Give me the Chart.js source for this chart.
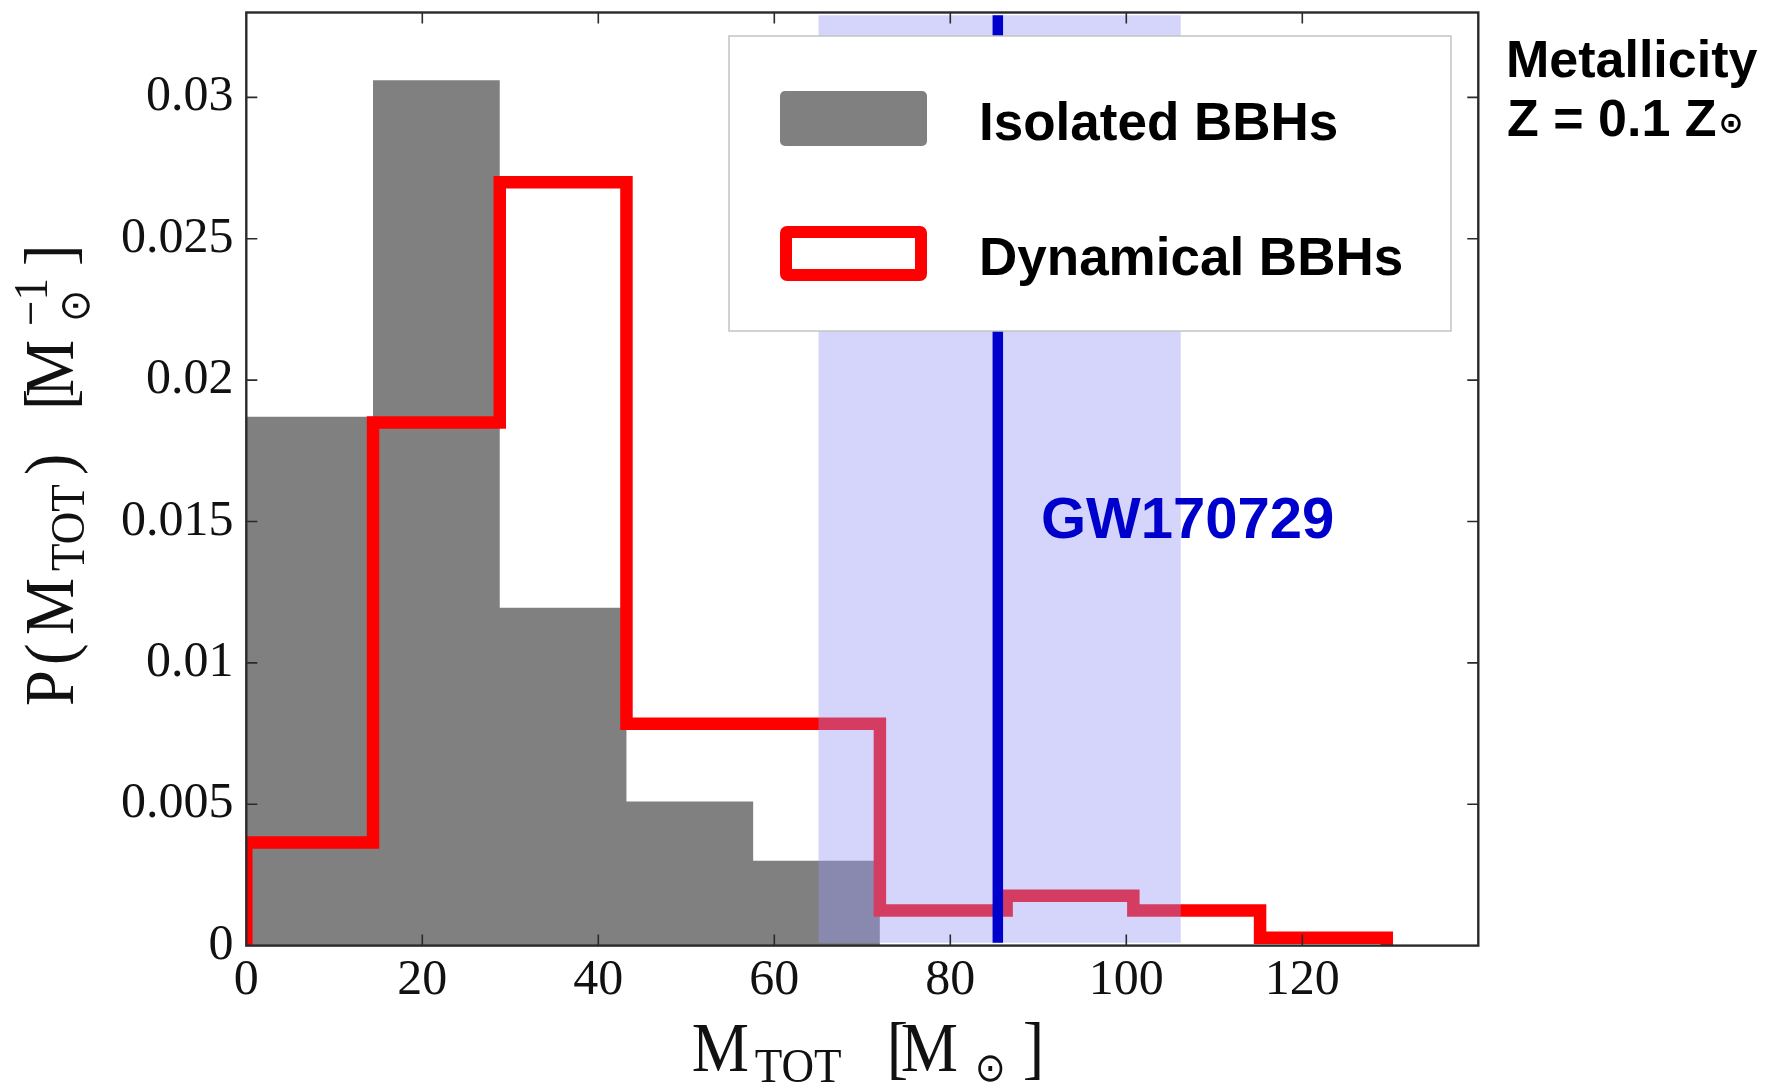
<!DOCTYPE html>
<html>
<head>
<meta charset="utf-8">
<title>P(M_TOT) of isolated and dynamical BBHs</title>
<script src="https://cdn.jsdelivr.net/npm/chart.js@4.4.1/dist/chart.umd.min.js"></script>
<style>
  html, body { margin: 0; padding: 0; background: #fff; }
  #wrap { width: 1780px; height: 1088px; }
</style>
</head>
<body>
<div id="wrap"><canvas id="mtot" width="1780" height="1088"></canvas></div>
<script>
/* ===== values ===== */
const binEdges = [0, 14.4, 28.8, 43.2, 57.6, 72, 86.4, 100.8, 115.2, 129.6];
const isolatedDensity = [0.0187, 0.0306, 0.01195, 0.0051, 0.0030];
const dynamicalDensity = [0.00365, 0.0185, 0.0270, 0.00785, 0.00785, 0.00124, 0.00176, 0.00124, 0.00028];
const gwMass = [85.4];            // GW170729 total mass
const gwRange = [65.0, 106.2];    // shaded interval
const gwSpan = [0.0001, 0.0329];  // vertical extent of line / band
const xTicks = [0, 20, 40, 60, 80, 100, 120];
const yTicks = [0, 0.005, 0.01, 0.015, 0.02, 0.025, 0.03];
const seriesNames = ["Isolated BBHs", "Dynamical BBHs"];
const gwName = "GW170729";
const gwLabelAt = [90.3, 0.0144];

const GRAY = "#808080";
const RED = "#ff0000";
const BLUE = "#0000cc";
const BAND = "rgba(150,150,245,0.4)";
const SERIF = "'Liberation Serif', 'Times New Roman', serif";
const SANS = "'Liberation Sans', Arial, sans-serif";
const SYM = "'DejaVu Sans', sans-serif";
const TICK = 11;

/* histogram -> step polyline (value of point i holds until point i+1) */
function stepPoints(edges, dens, closeLeft, closeRight) {
  const pts = [];
  if (closeLeft) pts.push({ x: edges[0], y: 0 });
  dens.forEach((d, i) => pts.push({ x: edges[i], y: d }));
  pts.push({ x: edges[dens.length], y: dens[dens.length - 1] });
  if (closeRight) pts.push({ x: edges[dens.length], y: 0 });
  return pts;
}

function fmtTick(v) {
  return String(parseFloat(Number(v).toFixed(4)));
}

/* ===== frame + inward ticks on all four sides ===== */
const frameTicks = {
  id: "frameTicks",
  afterDatasetsDraw(chart) {
    const { ctx, chartArea: a, scales: { x, y } } = chart;
    ctx.save();
    ctx.strokeStyle = "#2a2a2a";
    ctx.lineWidth = 1.6;
    ctx.beginPath();
    x.ticks.forEach(t => {
      const px = x.getPixelForValue(t.value);
      if (px <= a.left + 1 || px >= a.right - 1) return;
      ctx.moveTo(px, a.bottom); ctx.lineTo(px, a.bottom - TICK);
      ctx.moveTo(px, a.top); ctx.lineTo(px, a.top + TICK);
    });
    y.ticks.forEach(t => {
      const py = y.getPixelForValue(t.value);
      if (py >= a.bottom - 1 || py <= a.top + 1) return;
      ctx.moveTo(a.left, py); ctx.lineTo(a.left + TICK, py);
      ctx.moveTo(a.right, py); ctx.lineTo(a.right - TICK, py);
    });
    ctx.stroke();
    ctx.lineWidth = 2.4;
    ctx.strokeRect(a.left, a.top, a.width, a.height);
    ctx.restore();
  },
};

/* draw a run of text pieces along a baseline (optionally rotated) */
function drawRuns(ctx, ox, oy, rot, runs) {
  ctx.save();
  ctx.translate(ox, oy);
  ctx.rotate(rot);
  ctx.fillStyle = "#111";
  runs.forEach(r => {
    ctx.save();
    ctx.font = `${r.size}px ${r.family || SERIF}`;
    ctx.textBaseline = r.base || "alphabetic";
    ctx.translate(r.off, r.dy || 0);
    ctx.scale(0.92, 1);
    ctx.fillText(r.t, 0, 0);
    ctx.restore();
  });
  ctx.restore();
}

/* ===== legend, annotations, axis titles ===== */
const overlays = {
  id: "overlays",
  afterDraw(chart) {
    const { ctx, scales: { x, y } } = chart;
    const ds = chart.data.datasets;
    ctx.save();

    // GW label
    ctx.fillStyle = BLUE;
    ctx.font = `bold 58px ${SANS}`;
    ctx.textBaseline = "alphabetic";
    ctx.fillText(gwName, x.getPixelForValue(gwLabelAt[0]), y.getPixelForValue(gwLabelAt[1]));

    // legend box
    ctx.fillStyle = "#fff";
    ctx.fillRect(729, 36, 722, 295);
    ctx.strokeStyle = "#c4c4c4";
    ctx.lineWidth = 1.5;
    ctx.strokeRect(729, 36, 722, 295);

    const iso = ds.find(d => d.label === seriesNames[0]);
    const dyn = ds.find(d => d.label === seriesNames[1]);
    ctx.fillStyle = iso.backgroundColor;
    ctx.beginPath();
    ctx.roundRect(780, 91, 147, 55, 5);
    ctx.fill();

    ctx.strokeStyle = dyn.borderColor;
    ctx.lineWidth = 12;
    ctx.lineJoin = "round";
    ctx.beginPath();
    ctx.roundRect(786, 232, 135, 43, 1);
    ctx.stroke();

    ctx.fillStyle = "#000";
    ctx.font = `bold 53px ${SANS}`;
    ctx.fillText(seriesNames[0], 979, 140);
    ctx.fillText(seriesNames[1], 979, 275);

    // metallicity note
    ctx.font = `bold 52px ${SANS}`;
    ctx.fillText("Metallicity", 1506, 77);
    ctx.fillText("Z = 0.1 Z", 1507, 136);
    const zw = ctx.measureText("Z = 0.1 Z").width;
    ctx.font = `bold 30px ${SYM}`;
    ctx.textBaseline = "middle";
    ctx.fillText("\u2299", 1507 + zw + 2, 125);
    ctx.restore();

    // x axis title: M_TOT [M_sun]
    drawRuns(ctx, 691.7, 1070.7, 0, [
      { t: "M", size: 70, off: 0 },
      { t: "TOT", size: 49, off: 63, dy: 11 },
      { t: "[", size: 70, off: 195 },
      { t: "M", size: 70, off: 209 },
      { t: "\u2299", size: 40, off: 283, base: "middle", family: SYM },
      { t: "]", size: 70, off: 331 },
    ]);

    // y axis title: P(M_TOT) [M_sun^-1]
    drawRuns(ctx, 72.5, 706, -Math.PI / 2, [
      { t: "P", size: 70, off: 0 },
      { t: "(", size: 70, off: 41 },
      { t: "M", size: 70, off: 71 },
      { t: "TOT", size: 49, off: 135, dy: 11 },
      { t: ")", size: 70, off: 231 },
      { t: "[", size: 70, off: 296 },
      { t: "M", size: 70, off: 309 },
      { t: "\u22121", size: 49, off: 380, dy: -26 },
      { t: "\u2299", size: 42, off: 384, dy: 6, base: "middle", family: SYM },
      { t: "]", size: 70, off: 440 },
    ]);
  },
};

const ctx = document.getElementById("mtot").getContext("2d");
new Chart(ctx, {
  type: "line",
  data: {
    datasets: [
      {
        label: gwName,
        data: [{ x: gwMass[0], y: gwSpan[0] }, { x: gwMass[0], y: gwSpan[1] }],
        borderColor: BLUE,
        borderWidth: 10.5,
        borderCapStyle: "butt",
        fill: false,
        order: 0,
      },
      {
        label: "band",
        data: [{ x: gwRange[0], y: gwSpan[1] }, { x: gwRange[1], y: gwSpan[1] }],
        borderColor: "transparent",
        borderWidth: 0,
        backgroundColor: BAND,
        fill: { value: gwSpan[0] },
        order: 1,
      },
      {
        label: seriesNames[1],
        data: stepPoints(binEdges, dynamicalDensity, true, true),
        stepped: "before",
        borderColor: RED,
        backgroundColor: "transparent",
        borderWidth: 12.5,
        borderJoinStyle: "miter",
        borderCapStyle: "butt",
        fill: false,
        clip: 0,
        order: 2,
      },
      {
        label: seriesNames[0],
        data: stepPoints(binEdges, isolatedDensity, false, false),
        stepped: "before",
        borderColor: "transparent",
        borderWidth: 0,
        backgroundColor: GRAY,
        fill: "origin",
        order: 3,
      },
    ],
  },
  options: {
    responsive: false,
    devicePixelRatio: 1,
    animation: false,
    elements: { point: { radius: 0, hoverRadius: 0 }, line: { tension: 0 } },
    layout: { padding: { left: 0, top: 12.5, right: 301.7, bottom: 0 } },
    plugins: { legend: { display: false }, tooltip: { enabled: false } },
    events: [],
    scales: {
      x: {
        type: "linear",
        min: 0,
        max: 140,
        afterBuildTicks: s => { s.ticks = xTicks.map(v => ({ value: v })); },
        afterFit: s => { s.height = 142.4; s.paddingLeft = 0; s.paddingRight = 0; },
        ticks: {
          callback: v => fmtTick(v),
          font: { family: SERIF, size: 50 },
          color: "#111",
          padding: 5,
          maxRotation: 0,
        },
        grid: { drawOnChartArea: false, drawTicks: false },
        border: { display: false },
      },
      y: {
        type: "linear",
        min: 0,
        max: 0.033,
        afterBuildTicks: s => { s.ticks = yTicks.map(v => ({ value: v })); },
        afterFit: s => { s.width = 246.3; s.paddingTop = 0; s.paddingBottom = 0; },
        ticks: {
          callback: v => fmtTick(v),
          font: { family: SERIF, size: 50 },
          color: "#111",
          padding: 12.8,
        },
        grid: { drawOnChartArea: false, drawTicks: false },
        border: { display: false },
      },
    },
  },
  plugins: [frameTicks, overlays],
});
</script>
</body>
</html>
